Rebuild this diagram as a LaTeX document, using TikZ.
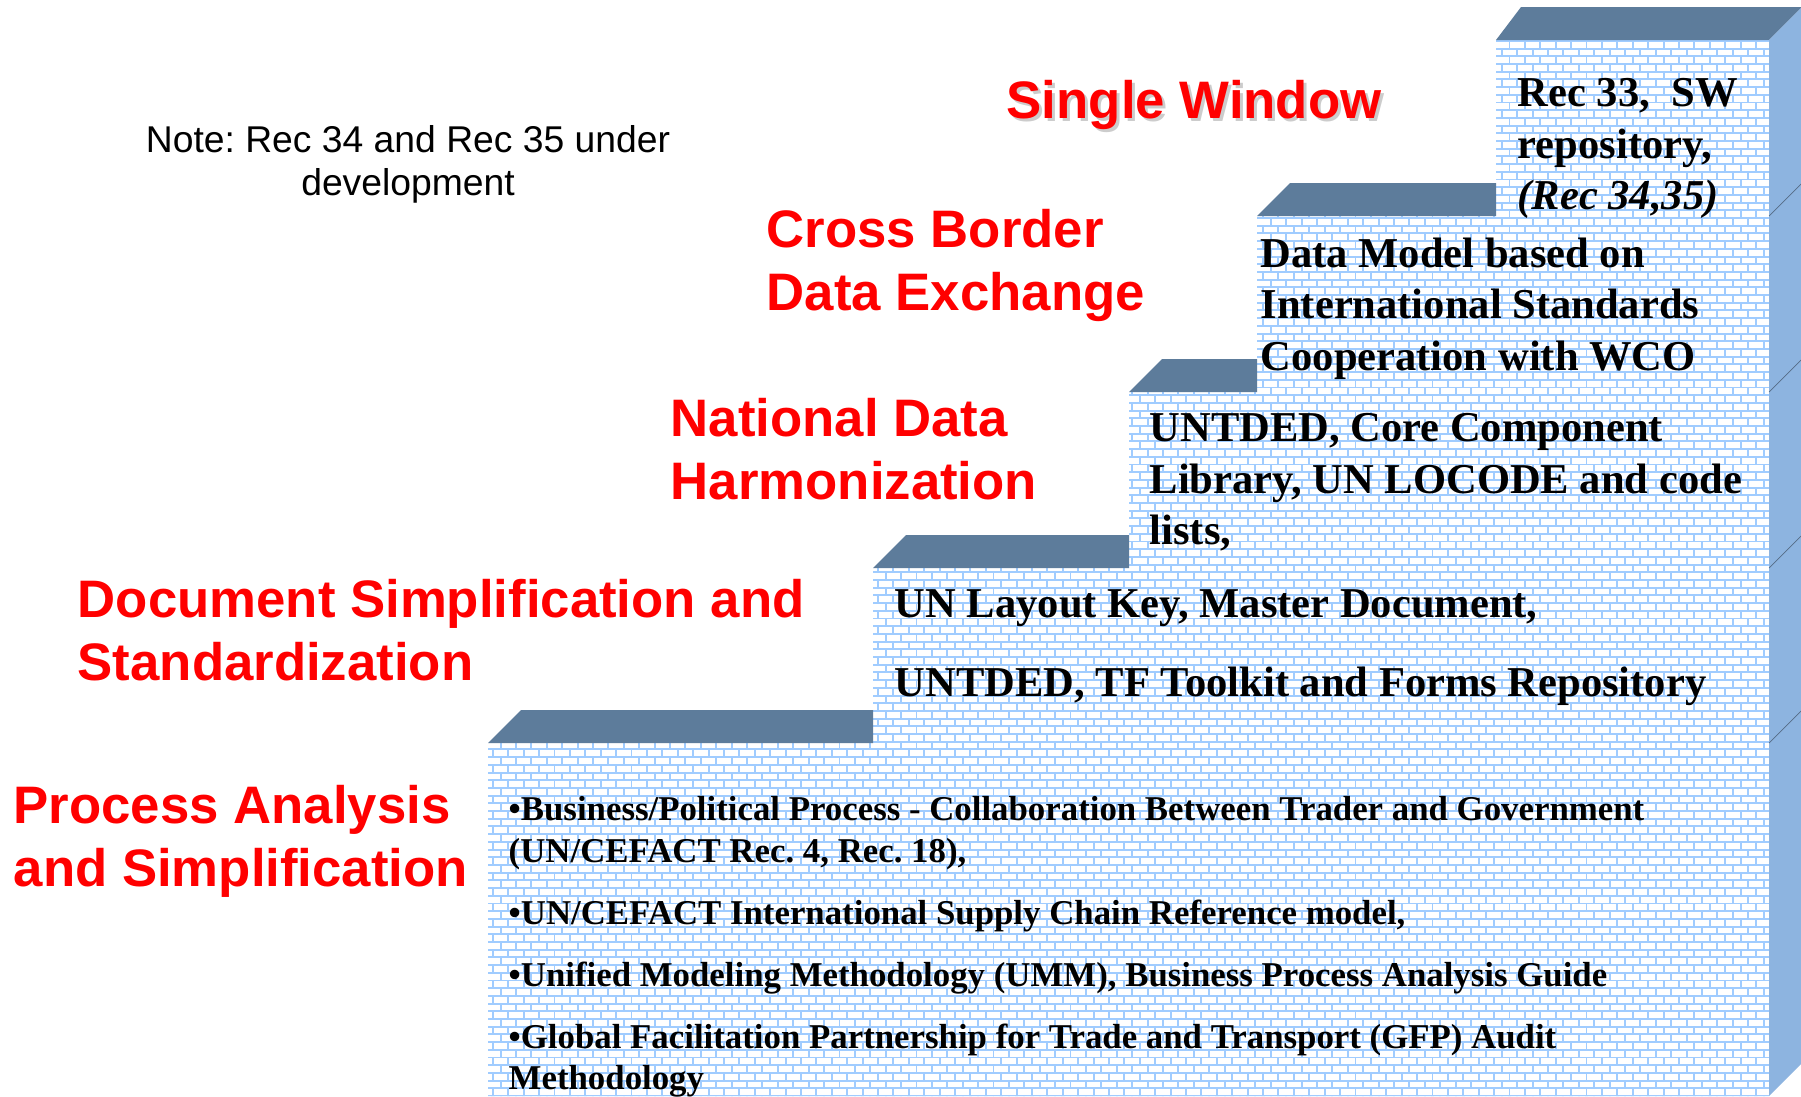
\documentclass[tikz,border=0pt]{standalone}
\usepackage{fontspec}
\setmainfont{Liberation Serif}
\newfontfamily\arialfont{Liberation Sans}
\usepackage{tikz}
\usetikzlibrary{patterns}
\frenchspacing

\definecolor{stepTop}{RGB}{93,124,155}
\definecolor{stepSide}{RGB}{141,180,224}
\definecolor{mortar}{RGB}{160,204,255}
\definecolor{titleRed}{RGB}{255,0,0}

% brick wall pattern, one tile = two rows of bricks
\pgfdeclarepatternformonly{wallbricks}{\pgfpoint{-0.5pt}{-0.5pt}}{\pgfpoint{4.88pt}{4.88pt}}{\pgfpoint{4.38pt}{4.38pt}}{%
  \pgfsetlinewidth{0.55pt}
  \pgfpathmoveto{\pgfpoint{-0.5pt}{0pt}}\pgfpathlineto{\pgfpoint{4.88pt}{0pt}}
  \pgfpathmoveto{\pgfpoint{-0.5pt}{2.19pt}}\pgfpathlineto{\pgfpoint{4.88pt}{2.19pt}}
  \pgfpathmoveto{\pgfpoint{0pt}{0pt}}\pgfpathlineto{\pgfpoint{0pt}{2.19pt}}
  \pgfpathmoveto{\pgfpoint{2.19pt}{2.19pt}}\pgfpathlineto{\pgfpoint{2.19pt}{4.38pt}}
  \pgfusepath{stroke}
}

\begin{document}
\begin{tikzpicture}[x=0.01cm,y=-0.01cm,
  steptop/.style={fill=stepTop},
  title/.style={anchor=north west,inner sep=0pt,align=left,text=titleRed,
    font=\arialfont\bfseries\fontsize{15}{17.9}\selectfont},
  steptext/.style={anchor=north west,inner sep=0pt,align=left,
    font=\bfseries\fontsize{12.1}{14.65}\selectfont}]
  \useasboundingbox (0,0) rectangle (1801,1096);
  % front corners of the steps
  \coordinate (s1) at (488,743);
  \coordinate (s2) at (873,568);
  \coordinate (s3) at (1129,392);
  \coordinate (s4) at (1257,216);
  \coordinate (s5) at (1496,40);
  \coordinate (edge) at (1769,40);
  % brick front
  \path[fill=white,postaction={pattern=wallbricks,pattern color=mortar}]
    (488,1096) -- (s1) -| (s2) -| (s3) -| (s4) -| (s5) -- (edge) -- (1769,1096) -- cycle;
  % top faces
  \fill[steptop] (s1) -- (521,710) -- (873,710) -- (873,743) -- cycle;
  \fill[steptop] (s2) -- (906,535) -- (1129,535) -- (1129,568) -- cycle;
  \fill[steptop] (s3) -- (1162,359) -- (1257,359) -- (1257,392) -- cycle;
  \fill[steptop] (s4) -- (1290,183) -- (1496,183) -- (1496,216) -- cycle;
  \fill[steptop] (s5) -- (1521,7) -- (1802,7) -- (edge) -- cycle;
  % side face
  \fill[stepSide] (edge) -- (1802,7) -- (1802,1063) -- (1769,1096) -- cycle;
  \foreach \y in {216,392,568,743}
    \draw[stepSide!60!black,line width=0.2pt] (1769,\y) -- ++(33,-33);

  \node[align=center,inner sep=0pt,anchor=north,font=\arialfont\fontsize{10.6}{12.3}\selectfont]
    (note) at (408,125) {Note: Rec 34 and Rec 35 under\\development};

  \node[title,text=gray!40] (sw shadow) at (1009,83) {Single Window};
  \node[title] (sw) at (1006,80) {Single Window};
  \node[title] (cbde) at (766,209) {Cross Border\\Data Exchange};
  \node[title] (ndh) at (670,398) {National Data\\Harmonization};
  \node[title] (dss) at (77,579) {Document Simplification and\\Standardization};
  \node[title] (pas) at (13,785) {Process Analysis\\and Simplification};

  \node[steptext] (t5) at (1517,78) {Rec 33,~~SW\\repository,\\\textit{(Rec 34,35)}};
  \node[steptext] (t4) at (1260,237) {Data Model based on\\International Standards\\Cooperation with WCO};
  \node[steptext] (t3) at (1149,413) {UNTDED, Core Component\\Library, UN LOCODE and code\\lists,};
  \node[steptext] (t2) at (894,589) {UN Layout Key, Master Document,\\[7.8pt]UNTDED, TF Toolkit and Forms Repository};
  \node[anchor=north west,inner sep=0pt,align=left,font=\bfseries\fontsize{9.9}{11.7}\selectfont]
    (t1) at (508,796) {\textbullet Business/Political Process - Collaboration Between Trader and Government\\
    (UN/CEFACT Rec. 4, Rec. 18),\\[6pt]
    \textbullet UN/CEFACT International Supply Chain Reference model,\\[6pt]
    \textbullet Unified Modeling Methodology (UMM), Business Process Analysis Guide\\[6pt]
    \textbullet Global Facilitation Partnership for Trade and Transport (GFP) Audit\\
    Methodology};
\end{tikzpicture}
\end{document}
